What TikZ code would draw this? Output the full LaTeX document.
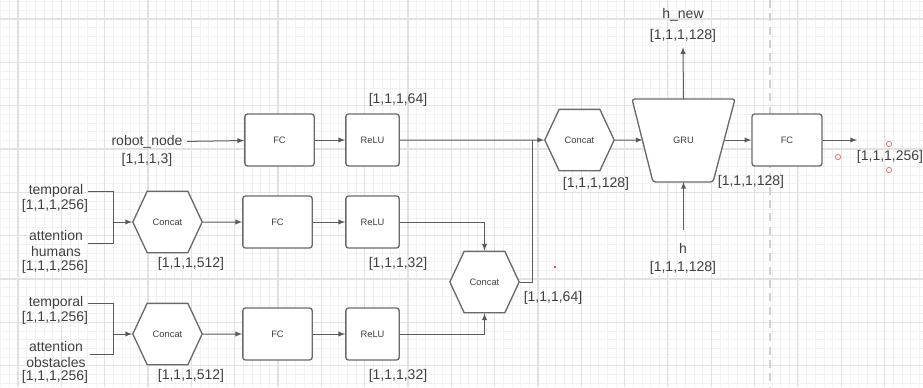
\documentclass[tikz,border=0pt]{standalone}
\usepackage{fontspec}
\setmainfont{Liberation Sans}
\usetikzlibrary{arrows,positioning,shapes.geometric,shapes.symbols}
\definecolor{linegray}{HTML}{5A5A5A}
\definecolor{boxgray}{HTML}{6A6A6A}
\definecolor{textgray}{HTML}{404040}
\definecolor{minorgrid}{HTML}{F1F1F1}
\definecolor{majorgrid}{HTML}{E2E2E2}
\definecolor{dashgray}{HTML}{D0D0D0}
\definecolor{selred}{HTML}{E8707A}

\begin{document}
\begin{tikzpicture}[x=0.75pt, y=-0.75pt, >=latex]
\tikzstyle{every node} = [text=textgray, font=\fontsize{10.5}{12}\selectfont]
\tikzstyle{box} = [draw=boxgray, line width=1pt, rounded corners=2pt, fill=white, minimum height=39pt, font=\fontsize{7}{8}\selectfont]
\tikzstyle{hexa} = [signal, signal to=east and west, signal pointer angle=130, draw=boxgray, line width=1pt, fill=white, minimum width=52pt, minimum height=46pt, font=\fontsize{7}{8}\selectfont]
\tikzstyle{conn} = [linegray, line width=0.75pt]
\useasboundingbox[fill=white] (0,0) rectangle (923,387);
% background grid
\foreach \i in {0,...,106} \draw[minorgrid, line width=0.6pt] ({0.67+\i*8.667},0) -- ({0.67+\i*8.667},387);
\foreach \j in {0,...,44} \draw[minorgrid, line width=0.6pt] (0,{1.7+\j*8.667}) -- (923,{1.7+\j*8.667});
\foreach \i in {0,...,20} \draw[majorgrid, line width=0.8pt] ({18+\i*43.33},0) -- ({18+\i*43.33},387);
\foreach \j in {0,...,8} \draw[majorgrid, line width=0.8pt] (0,{19+\j*43.33}) -- (923,{19+\j*43.33});
\draw[dashgray, line width=1.5pt, dash pattern=on 6pt off 4pt] (770,0) -- (770,387);

% robot branch
\node (robot) at (147,142) {robot\_node};
\node (robotdim) at (147,160) {[1,1,1,3]};
\node[box, minimum width=52pt] (fc1) at (279.5,140) {FC};
\node[box, minimum width=40pt] (relu1) at (372.5,140) {ReLU};
\node (relu1dim) at (398,100) {[1,1,1,64]};

% humans branch
\node (tmp1) at (56,191) {temporal};
\node (tmp1dim) at (55,206) {[1,1,1,256]};
\node[align=center] (att1) at (56,243) {attention\\humans};
\node (att1dim) at (55,267) {[1,1,1,256]};
\coordinate (j1) at (113,222);
\node[hexa] (cat1) at (167.5,222) {Concat};
\node (cat1dim) at (191,264) {[1,1,1,512]};
\node[box, minimum width=52pt] (fc2) at (277.5,222) {FC};
\node[box, minimum width=40pt] (relu2) at (372.5,222) {ReLU};
\node (relu2dim) at (398,264) {[1,1,1,32]};

% obstacles branch
\node (tmp2) at (56,303) {temporal};
\node (tmp2dim) at (55,318) {[1,1,1,256]};
\node[align=center] (att2) at (56,354) {attention\\obstacles};
\node (att2dim) at (55,377) {[1,1,1,256]};
\coordinate (j2) at (113,334);
\node[hexa] (cat2) at (167.5,334) {Concat};
\node (cat2dim) at (191,376) {[1,1,1,512]};
\node[box, minimum width=52pt] (fc3) at (277.5,334) {FC};
\node[box, minimum width=40pt] (relu3) at (372.5,334) {ReLU};
\node (relu3dim) at (398,376) {[1,1,1,32]};

% merge
\node[hexa] (cat4) at (484.5,282) {Concat};
\node (cat4dim) at (553,298) {[1,1,1,64]};
\coordinate (j3) at (532,140);
\node[hexa] (cat3) at (579.5,140) {Concat};
\node (cat3dim) at (596,184) {[1,1,1,128]};

% recurrent part
\coordinate (gtl) at (632,99);
\coordinate (gtr) at (735,99);
\coordinate (gbr) at (713,182);
\coordinate (gbl) at (653,182);
\draw[draw=boxgray, line width=1pt, rounded corners=2pt, fill=white] (gtl) -- (gtr) -- (gbr) -- (gbl) -- cycle;
\node[font=\fontsize{7}{8}\selectfont] (gru) at (683.5,140.5) {GRU};
\coordinate (gruin) at (642.5,140);
\coordinate (gruout) at (724.5,140);
\coordinate (grutop) at (683.5,99);
\coordinate (grubot) at (683.5,182);
\node (hnew) at (683,15) {h\_new};
\node (hnewdim) at (683,36) {[1,1,1,128]};
\node (h) at (683,248) {h};
\node (hdim) at (683,268) {[1,1,1,128]};
\coordinate (hin) at (683.5,230);
\node (grudim) at (751,182) {[1,1,1,128]};
\node[box, minimum width=52.5pt] (fc4) at (787,140) {FC};
\coordinate (out) at (857,140);
\node (outdim) at (890,157) {[1,1,1,256]};

\draw[conn, ->] (robot) -- (fc1);
\draw[conn, ->] (fc1) -- (relu1);
\draw[conn] (tmp1.east) -| (j1);
\draw[conn] (att1.east) -| (j1);
\draw[conn, ->] (j1) -- (cat1);
\draw[conn, ->] (cat1) -- (fc2);
\draw[conn, ->] (fc2) -- (relu2);
\draw[conn] (tmp2.east) -| (j2);
\draw[conn] (att2.east) -| (j2);
\draw[conn, ->] (j2) -- (cat2);
\draw[conn, ->] (cat2) -- (fc3);
\draw[conn, ->] (fc3) -- (relu3);
\draw[conn, ->] (relu2.east) -| (cat4.north);
\draw[conn, ->] (relu3.east) -| (cat4.south);
\draw[conn, ->] (relu1) -- (cat3);
\draw[conn] (cat4.east) -| (j3);
\draw[conn, ->] (cat3) -- (gruin);
\draw[conn, ->] (grutop) -- (hnewdim.south);
\draw[conn, ->] (hin) -- (grubot);
\draw[conn, ->] (gruout) -- (fc4);
\draw[conn, ->] (fc4) -- (out);

% selection marks
\draw[selred, line width=0.6pt] (838,157) circle (2.6) (889,144) circle (2.6) (889,170) circle (2.6);
\fill[red] (555,267) circle (1.1);
\end{tikzpicture}
\end{document}
